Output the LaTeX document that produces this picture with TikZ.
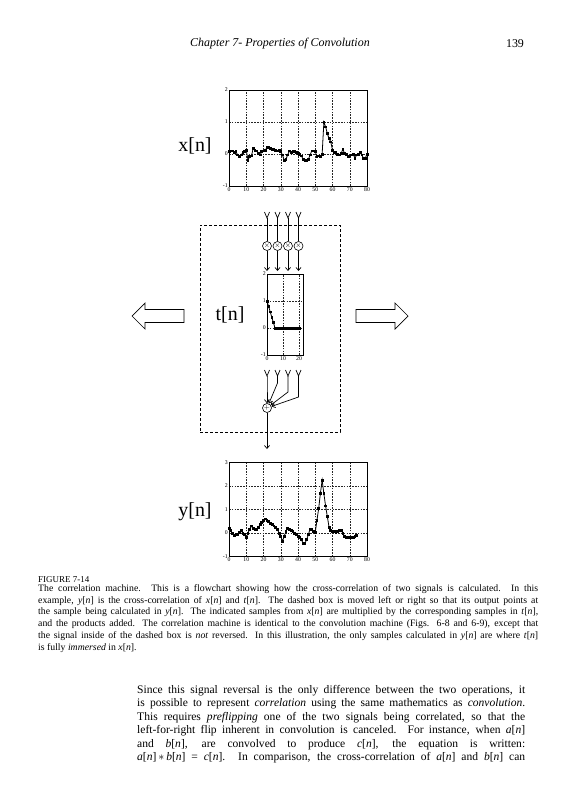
\documentclass[tikz,border=0pt]{standalone}
\usepackage{fontspec}
\setmainfont{Liberation Serif}
\usepackage{tikz}
\usetikzlibrary{arrows.meta,positioning,plotmarks}
\newcommand{\seqn}[1]{\textit{#1}[\textit{n}]}
\tikzset{
  plotframe/.style={draw=black,line width=0.8bp},
  gridline/.style={draw=black!85,line width=0.45bp,dash pattern=on 1.6bp off 1.2bp},
  ticklabel/.style={font=\fontsize{5.8}{6}\selectfont,inner sep=1bp},
  sigline/.style={line width=0.8bp,mark=square*,mark size=0.9bp,mark options={solid}},
  siglabel/.style={font=\fontsize{20}{20}\selectfont,inner sep=0pt},
  opnode/.style={circle,draw,line width=0.6bp,minimum size=9bp,inner sep=0pt,
                 font=\fontsize{7}{7}\selectfont},
  tapline/.style={line width=0.7bp},
  tapflow/.style={line width=0.7bp,-{Straight Barb[length=3bp,width=5bp]}},
  dashbox/.style={draw,line width=0.8bp,dash pattern=on 3bp off 2bp,inner sep=0pt},
  movearrow/.style={draw,line width=0.7bp,fill=white},
  headtext/.style={font=\fontsize{12}{13}\selectfont,inner sep=0pt},
  captext/.style={font=\fontsize{9.8}{12}\selectfont,text width=500bp,align=justify,
                  inner sep=0pt,anchor=north west},
  bodytext/.style={font=\fontsize{11.6}{13.5}\selectfont,text width=388bp,align=justify,
                   inner sep=0pt,anchor=north west}
}

\begin{document}
\begin{tikzpicture}[x=1bp,y=-1bp]
    \useasboundingbox[fill=white] (0,0) rectangle (563,800);

    % running head
    \node[headtext,font=\fontsize{12}{13}\selectfont\itshape] (runhead) at (280,44) {Chapter 7- Properties of Convolution};
    \node[headtext] (pagenum) at (515,44) {139};

    % input signal x[n]
    \node[siglabel] (xlabel) at (195,146) {x[n]};
    \begin{scope}[shift={(229,154)},x=1.725bp,y=32bp]
      \foreach \n in {10,20,...,70} \draw[gridline] (\n,-1) -- (\n,2);
      \foreach \v in {0,1} \draw[gridline] (0,\v) -- (80,\v);
      \draw[plotframe] (0,-1) rectangle (80,2);
      \foreach \n in {0,10,...,80} \node[ticklabel,below] (xtick\n) at (\n,-1) {\n};
      \foreach \v in {-1,0,1,2} \node[ticklabel,left] (xval\v) at (0,\v) {\v};
      \draw[sigline] plot coordinates {(0,0.07) (1,0.1) (2,0.1) (3,0.04) (4,0.07) (5,-0.03)
        (6,-0.08) (7,-0.03) (8,0.04) (9,0.09) (10,0.12) (11,-0.19) (12,-0.08) (13,-0.06)
        (14,0.17) (15,0.12) (16,0.1) (17,0.02) (18,-0.03) (19,0.07) (20,0.1) (21,0.12)
        (22,0.2) (23,0.2) (24,0.18) (25,0.15) (26,0.15) (27,0.12) (28,0.1) (29,0.12)
        (30,0.07) (31,-0.03) (32,-0.19) (33,-0.17) (34,-0.03) (35,0.1) (36,0.04) (37,0.07)
        (38,0.07) (39,0.04) (40,0.02) (41,0) (42,-0.06) (43,-0.17) (44,-0.2) (45,-0.19)
        (46,-0.17) (47,-0.03) (48,0.1) (49,0.1) (50,0.07) (51,-0.08) (52,-0.06) (53,-0.08)
        (54,0) (55,1.0) (56,0.85) (57,0.64) (58,0.48) (59,0.38) (60,0.12) (61,0.04)
        (62,0.04) (63,0) (64,-0.03) (65,0.02) (66,0.15) (67,0.02) (68,0) (69,-0.08)
        (70,-0.06) (71,-0.03) (72,0) (73,-0.13) (74,-0.03) (75,0) (76,0.04) (77,-0.03)
        (78,-0.13) (79,-0.13) (80,0)};
    \end{scope}

    % the machine (dashed window)
    \node[dashbox,minimum width=140bp,minimum height=207bp] (window) at (270,328.5) {};
    \node[siglabel] (tlabel) at (230,315) {t[n]};

    \foreach \i/\xx in {1/267,2/277.5,3/288,4/298.5} {
      \coordinate (topY\i) at (\xx,218);
      \draw[tapline] (\xx-2.5,212) -- (topY\i) -- (\xx+2.5,212);
      \node[opnode] (mul\i) at (\xx,246) {$\times$};
      \coordinate (tin\i) at (\xx,271);
      \draw[tapline] (topY\i) -- (mul\i);
      \draw[tapflow] (mul\i) -- (tin\i);
    }

    \begin{scope}[shift={(267,328)},x=1.6bp,y=27bp]
      \foreach \n in {10,20} \draw[gridline] (\n,-1) -- (\n,2);
      \foreach \v in {0,1} \draw[gridline] (0,\v) -- (22.5,\v);
      \draw[plotframe] (0,-1) rectangle (22.5,2);
      \foreach \n in {0,10,20} \node[ticklabel,below] (ttick\n) at (\n,-1) {\n};
      \foreach \v in {-1,0,1,2} \node[ticklabel,left] (tval\v) at (0,\v) {\v};
      \draw[sigline] plot coordinates {(0,1) (1,0.8) (2,0.6) (3,0.4) (4,0.2) (5,0) (6,0)
        (7,0) (8,0) (9,0) (10,0) (11,0) (12,0) (13,0) (14,0) (15,0) (16,0) (17,0) (18,0)
        (19,0) (20,0)};
    \end{scope}

    \node[opnode] (sum) at (267,408) {$+$};
    \foreach \i/\xx/\yy in {1/267/383,2/277.5/383,3/288/392,4/298.5/397} {
      \coordinate (botY\i) at (\xx,376);
      \coordinate (bend\i) at (\xx,\yy);
      \draw[tapline] (\xx-2.5,370) -- (botY\i) -- (\xx+2.5,370);
      \draw[tapflow] (botY\i) -- (bend\i) -- (sum);
    }
    \coordinate (yout) at (267,449);
    \draw[tapflow] (sum) -- (yout);

    % move left / move right
    \draw[movearrow] (184,309.5) -- (145,309.5) -- (145,303) -- (132,316) -- (145,329)
      -- (145,322.5) -- (184,322.5) -- cycle;
    \draw[movearrow] (356,309.5) -- (395,309.5) -- (395,303) -- (408,316) -- (395,329)
      -- (395,322.5) -- (356,322.5) -- cycle;

    % output signal y[n]
    \node[siglabel] (ylabel) at (195,512) {y[n]};
    \begin{scope}[shift={(229,533)},x=1.725bp,y=23.5bp]
      \foreach \n in {10,20,...,70} \draw[gridline] (\n,-1) -- (\n,3);
      \foreach \v in {0,1,2} \draw[gridline] (0,\v) -- (80,\v);
      \draw[plotframe] (0,-1) rectangle (80,3);
      \foreach \n in {0,10,...,80} \node[ticklabel,below] (ytick\n) at (\n,-1) {\n};
      \foreach \v in {-1,0,1,2,3} \node[ticklabel,left] (yval\v) at (0,\v) {\v};
      \draw[sigline] plot coordinates {(0,0.2) (1,0.1) (2,-0.03) (3,-0.1) (4,-0.07)
        (5,-0.07) (6,0.03) (7,0.1) (8,0) (9,-0.07) (10,-0.2) (11,0) (12,0.17) (13,0.3)
        (14,0.2) (15,0.17) (16,0.14) (17,0.25) (18,0.35) (19,0.45) (20,0.53) (21,0.6)
        (22,0.53) (23,0.5) (24,0.42) (25,0.38) (26,0.3) (27,0.25) (28,0.17) (29,0)
        (30,-0.14) (31,-0.35) (32,-0.14) (33,0.07) (34,0.2) (35,0.17) (36,0.1) (37,0.07)
        (38,0) (39,-0.07) (40,-0.14) (41,-0.2) (42,-0.28) (43,-0.45) (44,-0.45) (45,-0.28)
        (46,-0.07) (47,0.17) (48,0.14) (49,0.07) (50,0.03) (51,0.55) (52,1.05) (53,1.7)
        (54,2.25) (55,1.67) (56,1.15) (57,0.7) (58,0.25) (59,0.1) (60,0.07) (61,0.07)
        (62,0.03) (63,0.07) (64,0.1) (65,0.1) (66,0) (67,-0.14) (68,-0.2) (69,-0.17)
        (70,-0.2) (71,-0.17) (72,-0.2) (73,-0.14) (74,-0.1)};
    \end{scope}

    % caption
    \node[font=\fontsize{9}{10}\selectfont,anchor=west,inner sep=0pt] (figlabel) at (38,580) {FIGURE 7-14};
    \node[captext] (caption) at (38,584) {\hyphenpenalty=10000 \exhyphenpenalty=10000
      The correlation machine. This is a flowchart showing how the cross-correlation of two signals is calculated.  In this\linebreak
      example, \seqn{y} is the cross-correlation of \seqn{x} and \seqn{t}. The dashed box is moved left or right so that its output points at\linebreak
      the sample being calculated in \seqn{y}.  The indicated samples from \seqn{x} are multiplied by the corresponding samples in \seqn{t},\linebreak
      and the products added.  The correlation machine is identical to the convolution machine (Figs. 6-8 and 6-9), except that\linebreak
      the signal inside of the dashed box is \textit{not} reversed.  In this illustration, the only samples calculated in \seqn{y} are where \seqn{t}\linebreak
      is fully \textit{immersed} in \seqn{x}.\par};

    % body text
    \node[bodytext] (body) at (137,685) {\hyphenpenalty=10000 \exhyphenpenalty=10000 \parfillskip=0pt
      Since this signal reversal is the only difference between the two operations, it\linebreak
      is possible to represent \textit{correlation} using the same mathematics as \textit{convolution}.\linebreak
      This requires \textit{preflipping} one of the two signals being correlated, so that the\linebreak
      left-for-right flip inherent in convolution is canceled.  For instance, when \seqn{a}\linebreak
      and \seqn{b}, are convolved to produce \seqn{c}, the equation is written:\linebreak
      \seqn{a}\,$*$\,\seqn{b} = \seqn{c}.  In comparison, the cross-correlation of \seqn{a} and \seqn{b} can\par};
  \end{tikzpicture}
\end{document}
